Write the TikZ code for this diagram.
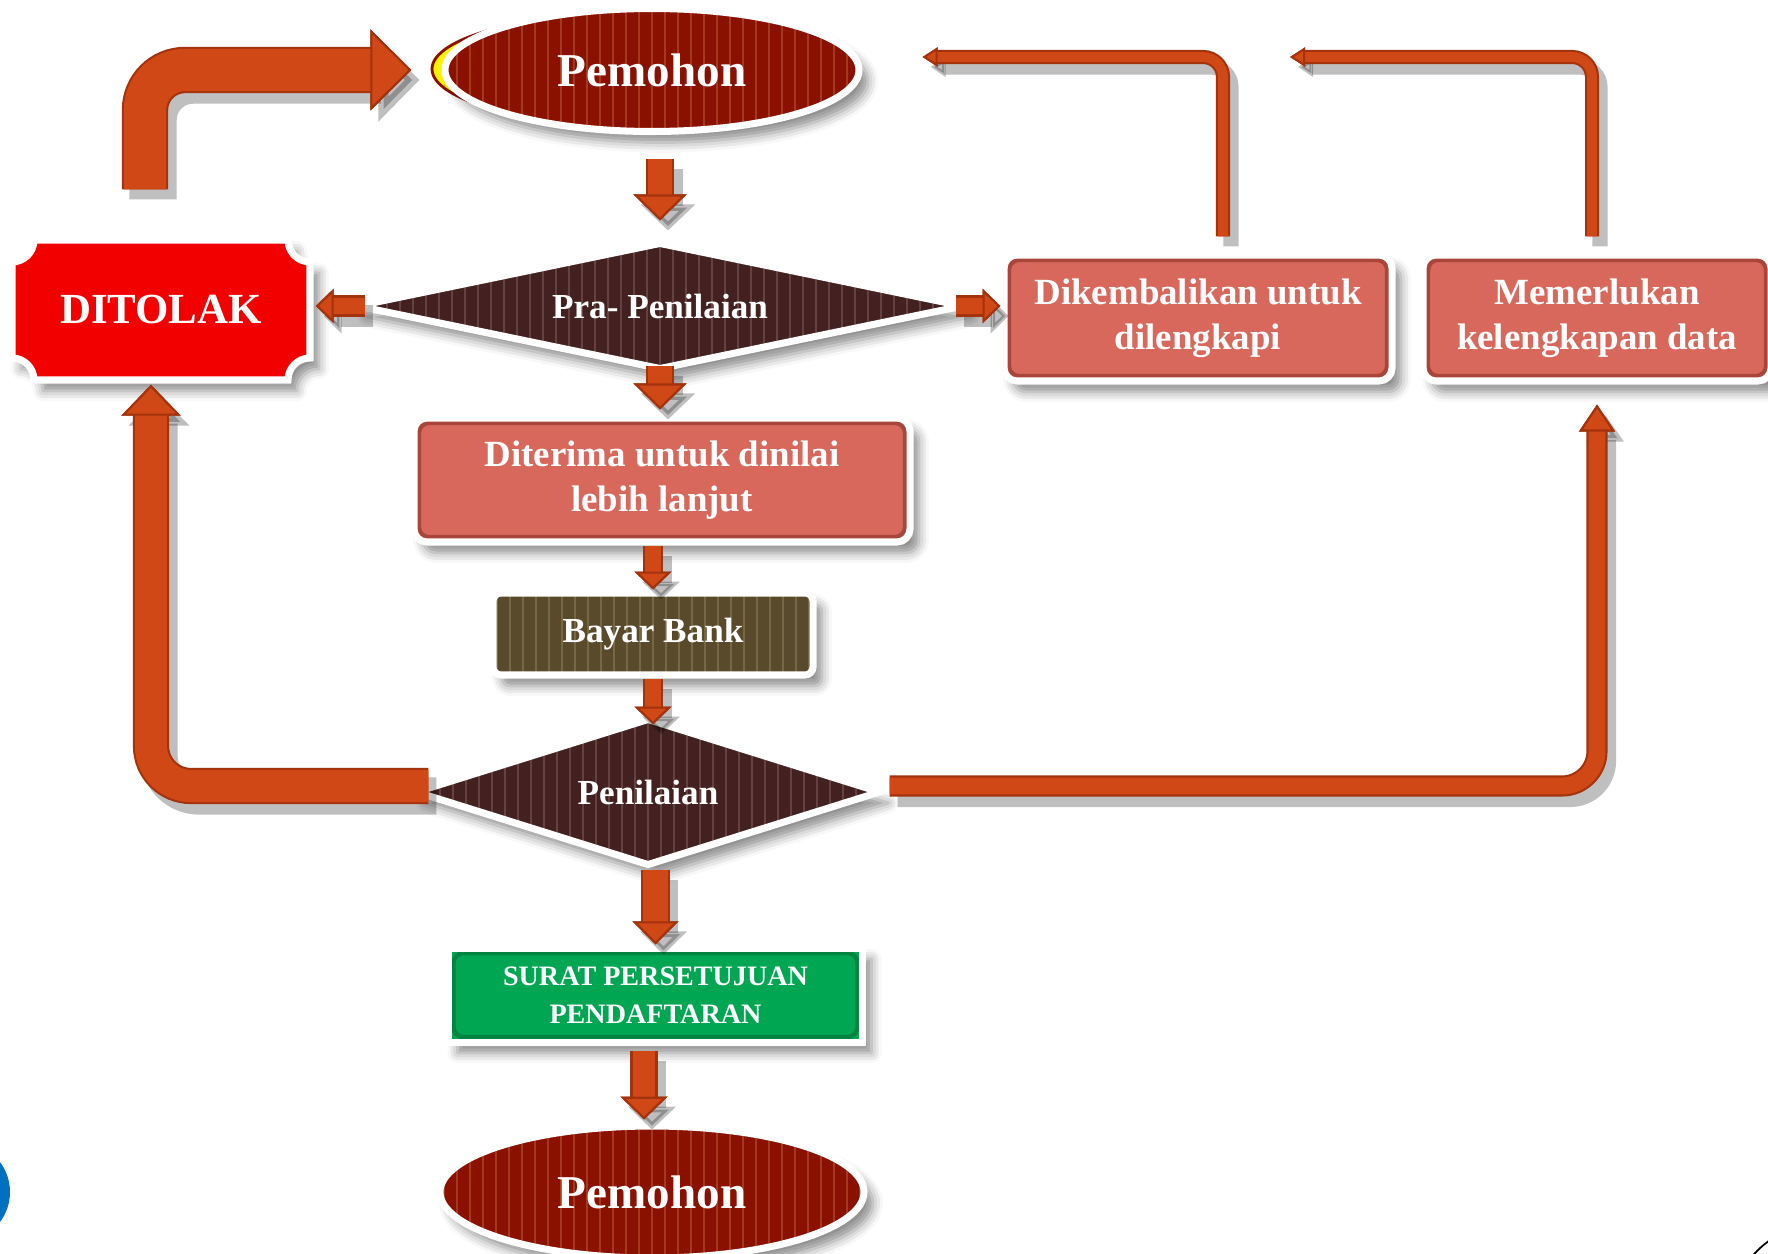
\documentclass[tikz,border=0pt]{standalone}
\usepackage{fontspec}
\setmainfont{Liberation Serif}
\usepackage{tikz}
\usetikzlibrary{shapes,arrows.meta,calc,shadows,shadows.blur}

\definecolor{ovalred}{HTML}{8A1100}
\definecolor{ovalstripe}{HTML}{A33A1C}
\definecolor{decbrown}{HTML}{432121}
\definecolor{decstripe}{HTML}{664141}
\definecolor{tolakred}{HTML}{F20000}
\definecolor{salmon}{HTML}{D9685C}
\definecolor{salmonedge}{HTML}{A9463B}
\definecolor{bankbrown}{HTML}{584A2B}
\definecolor{bankstripe}{HTML}{776845}
\definecolor{okgreen}{HTML}{00A651}
\definecolor{okgreenedge}{HTML}{00843F}
\definecolor{arrfill}{HTML}{D14817}
\definecolor{arredge}{HTML}{A3330D}
\definecolor{dotblue}{HTML}{0070C0}

\tikzset{
  rim/.style={draw=white, line width=2pt},
  softshadow/.style={blur shadow={shadow xshift=.09cm, shadow yshift=-.11cm, shadow opacity=45, shadow blur radius=.1cm}},
  stripes/.style={path picture={
    \foreach \k in {-25,...,25}
      \draw[#1, line width=.5pt] ([xshift=\k*.13cm]path picture bounding box.north) -- ([xshift=\k*.13cm]path picture bounding box.south);}},
  bevel/.style={path picture={
    \draw[#1, line width=1.2pt, rounded corners=.1cm] ([shift={(.05cm,-.05cm)}]path picture bounding box.north west) rectangle ([shift={(-.05cm,.05cm)}]path picture bounding box.south east);}},
  oval/.style={ellipse, rim, fill=ovalred, stripes=ovalstripe, softshadow, text=white, inner sep=0pt, font=\bfseries\fontsize{13.4}{16}\selectfont},
  decision/.style={diamond, rim, fill=decbrown, stripes=decstripe, softshadow, text=white, inner sep=1pt, font=\bfseries\fontsize{10}{12}\selectfont},
  notebox/.style={rectangle, rounded corners=.13cm, rim, fill=salmon, bevel=salmonedge, softshadow, text=white, align=center, font=\bfseries\fontsize{10.5}{12.8}\selectfont},
  bankbox/.style={rectangle, rounded corners=.08cm, rim, fill=bankbrown, stripes=bankstripe, softshadow, text=white, font=\bfseries\fontsize{10}{12}\selectfont},
  greenbox/.style={rectangle, rim, fill=okgreen, bevel=okgreenedge, softshadow, text=white, align=center, font=\bfseries\fontsize{8}{10.8}\selectfont},
  fatarrow/.style n args={3}{
    line width=#1, draw=arrfill,
    -{Triangle[length=#3, width=#2, line width=.6pt, color=arredge, fill=arrfill]},
    preaction={draw=black, opacity=.25, line width=#1+1.5pt, transform canvas={shift={(.08cm,-.1cm)}},
      -{Triangle[length=#3, width=#2]}},
    preaction={draw=arredge, line width=#1+1.2pt,
      -{Triangle[length=#3, width=#2, line width=.6pt, color=arredge, fill=arrfill]}}}
}

\begin{document}
\begin{tikzpicture}
    \useasboundingbox (0,0) rectangle (17.68,-12.53);

    % Start
    \draw[fill=yellow, draw=ovalred, line width=.8pt] (6.37,-0.69) ellipse [x radius=2.05, y radius=.56];
    \node[oval, minimum width=4.14cm, minimum height=1.23cm] (pem1) at (6.52,-0.70) {Pemohon};

    % Pre-assessment
    \node[decision, aspect=4.7, minimum width=6.08cm, minimum height=1.28cm] (pra) at (6.60,-3.06) {Pra- Penilaian};

    % Rejected
    \draw[rim, fill=tolakred, softshadow] (0.34,-2.40) -- (2.88,-2.40) arc[start angle=180, end angle=270, radius=.22]
        -- (3.10,-3.58) arc[start angle=90, end angle=180, radius=.22]
        -- (0.34,-3.80) arc[start angle=0, end angle=90, radius=.22]
        -- (0.12,-2.62) arc[start angle=270, end angle=360, radius=.22] -- cycle;
    \node[text=white, font=\bfseries\fontsize{12.2}{14}\selectfont, minimum width=2.98cm, minimum height=1.40cm] (ditolak) at (1.61,-3.10) {DITOLAK};

    % Returned / incomplete
    \node[notebox, minimum width=3.88cm, minimum height=1.26cm] (kembali) at (11.98,-3.18) {Dikembalikan untuk\\dilengkapi};
    \node[notebox, minimum width=3.48cm, minimum height=1.26cm] (perlu) at (15.97,-3.18) {Memerlukan\\kelengkapan data};

    % Main line
    \node[notebox, minimum width=4.96cm, minimum height=1.24cm] (terima) at (6.62,-4.80) {Diterima untuk dinilai\\lebih lanjut};
    \node[bankbox, minimum width=3.20cm, minimum height=.82cm] (bayar) at (6.53,-6.34) {Bayar Bank};
    \node[decision, aspect=3.2, minimum width=4.66cm, minimum height=1.48cm] (pen) at (6.48,-7.92) {Penilaian};
    \node[greenbox, minimum width=4.14cm, minimum height=.94cm] (surat) at (6.555,-9.95) {SURAT PERSETUJUAN\\PENDAFTARAN};
    \node[oval, minimum width=4.24cm, minimum height=1.32cm] (pem2) at (6.52,-11.92) {Pemohon};

    % Straight arrows
    \draw[fatarrow={6.8pt}{15pt}{7.4pt}, shorten <=.24cm, shorten >=.18cm] (pra.north |- pem1.south) -- (pra.north);
    \draw[fatarrow={6.8pt}{15pt}{7.4pt}, shorten >=.05cm] ([yshift=.08cm]pra.south) -- (pra.south |- terima.north);
    \draw[fatarrow={4.5pt}{10.5pt}{5.1pt}] (bayar.north |- terima.south) -- (bayar.north);
    \draw[fatarrow={4.5pt}{10.5pt}{5.1pt}] (bayar.south) -- ([yshift=-.1cm]bayar.south |- pen.north);
    \draw[fatarrow={7pt}{13pt}{6.6pt}] (surat.north |- pen.south) -- (surat.north);
    \draw[fatarrow={6.5pt}{13.3pt}{6.5pt}, shorten <=.05cm, shorten >=.03cm] ([xshift=-.08cm]pem2.north |- surat.south) -- ([xshift=-.08cm]pem2.north);
    \draw[fatarrow={4.8pt}{9.7pt}{5.1pt}, shorten >=.05cm] ([xshift=.54cm]ditolak.east |- pra.west) -- (ditolak.east |- pra.west);
    \draw[fatarrow={4.8pt}{9.7pt}{5.1pt}] ([xshift=-.45cm]kembali.west |- pra.east) -- (kembali.west |- pra.east);

    % Bent arrows
    \draw[fatarrow={12pt}{23pt}{11.7pt}, rounded corners=.4cm, shorten <=.5cm, shorten >=.3cm] ([xshift=-.16cm]ditolak.north) |- (pem1.west);
    \draw[fatarrow={9.1pt}{16.8pt}{8.8pt}, rounded corners=.4cm, shorten >=.04cm] ([xshift=.17cm,yshift=.06cm]pen.west) -| ([xshift=-.10cm]ditolak.south);
    \draw[fatarrow={4.8pt}{10.2pt}{7.7pt}, rounded corners=.35cm, shorten <=.05cm, shorten >=.2cm] ([yshift=.06cm]pen.east) -| (perlu.south);
    \draw[fatarrow={2.8pt}{5.4pt}{4.3pt}, rounded corners=.2cm, shorten <=.15cm, shorten >=.6cm] ([xshift=.25cm]kembali.north) |- ([yshift=.13cm]pem1.east);
    \coordinate (ujung) at (12.90,-0.57);
    \draw[fatarrow={2.8pt}{5.4pt}{4.3pt}, rounded corners=.2cm, shorten <=.15cm] ([xshift=-.05cm]perlu.north) |- (ujung);

    % Slide leftovers
    \fill[dotblue] (-0.40,-11.92) circle (.50);
    \draw[line width=.5pt] (17.70,-12.40) .. controls (17.62,-12.46) .. (17.52,-12.56);
\end{tikzpicture}
\end{document}
